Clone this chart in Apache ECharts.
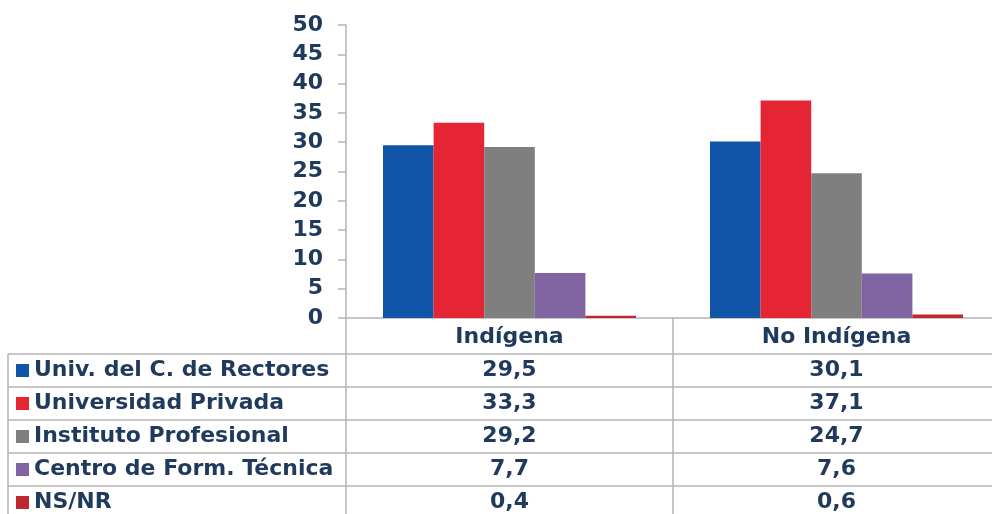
<!DOCTYPE html>
<html>
<head>
<meta charset="utf-8">
<script src="https://cdn.jsdelivr.net/npm/echarts@6/dist/echarts.min.js"></script>
<style>
html,body{margin:0;padding:0;background:#fff;}
#main{width:992px;height:514px;}
</style>
</head>
<body>
<div id="main"></div>
<script>
// ---- data ----
var categories = ['Indígena', 'No Indígena'];
var seriesNames = ['Univ. del C. de Rectores', 'Universidad Privada', 'Instituto Profesional', 'Centro de Form. Técnica', 'NS/NR'];
var univRectores = [29.5, 30.1];
var univPrivada = [33.3, 37.1];
var institutoProf = [29.2, 24.7];
var centroFormTec = [7.7, 7.6];
var nsnr = [0.4, 0.6];
var yTicks = [0, 5, 10, 15, 20, 25, 30, 35, 40, 45, 50];

var seriesValues = [univRectores, univPrivada, institutoProf, centroFormTec, nsnr];
var colors = ['#1155A8', '#E52533', '#7F7F7F', '#8064A2', '#C0282F'];
var textColor = '#1f3a5c';
var lineColor = '#b4b4b4';
var font = 'DejaVu Sans';
var fs = 22;

var chart = echarts.init(document.getElementById('main'));

var series = seriesNames.map(function (n, i) {
  return {
    name: n,
    type: 'bar',
    data: seriesValues[i],
    barWidth: 50.6,
    barGap: '0%',
    itemStyle: { color: colors[i] },
    emphasis: { disabled: true }
  };
});

chart.setOption({
  animation: false,
  grid: { left: 346, top: 25, width: 654, height: 293, outerBoundsMode: 'none', containLabel: false },
  xAxis: {
    type: 'category',
    data: categories,
    axisLine: { lineStyle: { color: lineColor, width: 1.5 } },
    axisTick: { show: true, length: 200, lineStyle: { color: lineColor, width: 1.5 } },
    axisLabel: { color: textColor, fontFamily: font, fontWeight: 'bold', fontSize: fs, margin: 8 }
  },
  yAxis: {
    type: 'value',
    min: yTicks[0],
    max: yTicks[yTicks.length - 1],
    interval: yTicks[1] - yTicks[0],
    splitLine: { show: false },
    axisLine: { show: true, lineStyle: { color: lineColor, width: 1.5 } },
    axisTick: { show: true, length: 8, lineStyle: { color: lineColor, width: 1.5 } },
    axisLabel: { color: textColor, fontFamily: font, fontWeight: 'bold', fontSize: 22, margin: 23 }
  },
  legend: {
    orient: 'vertical',
    left: 16,
    top: 359.5,
    padding: 0,
    itemWidth: 13,
    itemHeight: 13,
    itemGap: 11,
    icon: 'rect',
    selectedMode: false,
    data: seriesNames,
    textStyle: { color: textColor, fontFamily: font, fontWeight: 'bold', fontSize: fs, lineHeight: 22 }
  },
  series: series
});

// table overlay
var tableTop = 354, rowH = 33, tableLeft = 8, tableRight = 992;
var graphics = [];
for (var r = 0; r <= seriesNames.length; r++) {
  var y = tableTop + r * rowH;
  graphics.push({
    type: 'line',
    shape: { x1: tableLeft, y1: y, x2: tableRight, y2: y },
    style: { stroke: lineColor, lineWidth: 1.5 },
    silent: true
  });
}
graphics.push({
  type: 'line',
  shape: { x1: tableLeft, y1: tableTop, x2: tableLeft, y2: 514 },
  style: { stroke: lineColor, lineWidth: 1.5 },
  silent: true
});
seriesValues.forEach(function (vals, r) {
  vals.forEach(function (v, c) {
    var x = chart.convertToPixel({ xAxisIndex: 0 }, categories[c]);
    graphics.push({
      type: 'text',
      x: x,
      y: tableTop + r * rowH + rowH / 2,
      silent: true,
      style: {
        text: v.toFixed(1).replace('.', ','),
        fill: textColor,
        font: 'bold ' + fs + 'px "' + font + '"',
        align: 'center',
        verticalAlign: 'middle'
      }
    });
  });
});
chart.setOption({ graphic: graphics });
</script>
</body>
</html>
